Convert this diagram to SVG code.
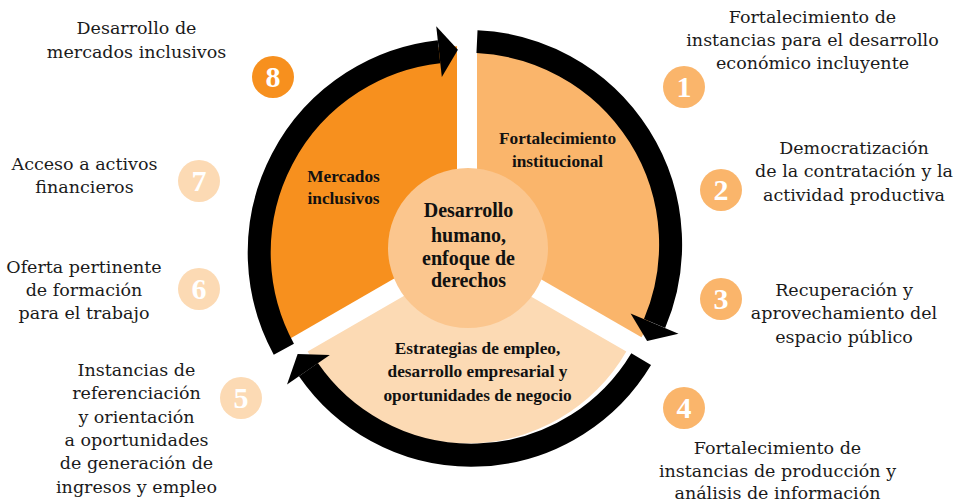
<svg xmlns="http://www.w3.org/2000/svg" width="961" height="503" viewBox="0 0 961 503">
<style>
.lbl{font-family:"DejaVu Serif",serif;font-size:17.5px;fill:#1a1a1a;text-anchor:middle}
.sec{font-family:"Liberation Serif","Times New Roman",serif;font-weight:bold;font-size:17.3px;fill:#111;text-anchor:middle}
.ctr{font-family:"Liberation Serif","Times New Roman",serif;font-weight:bold;font-size:20px;fill:#111;text-anchor:middle}
.num{font-family:"Liberation Serif","Times New Roman",serif;font-weight:bold;font-size:30px;fill:#fff;text-anchor:middle}
.arc{fill:none;stroke:#000;stroke-width:23}
.c1{fill:#F7901E}.c2{fill:#FAB56B}.c3{fill:#FCDAB4}.c4{fill:#FBC68E}
</style>
<rect width="961" height="503" fill="#fff"/>
<g id="sector-mercados">
<path class="c1" d="M457 242.25 L287.26 340.25 A196 196 0 0 1 457 46.25 Z"/>
<text class="sec" x="343.5" y="181.5">Mercados</text>
<text class="sec" x="343.5" y="204">inclusivos</text>
</g>
<g id="sector-fortalecimiento">
<path class="c2" d="M477 242.25 L477 52.25 A190 190 0 0 1 641.5 337.25 Z"/>
<text class="sec" x="557.5" y="144">Fortalecimiento</text>
<text class="sec" x="557.5" y="166.5">institucional</text>
</g>
<g id="sector-estrategias">
<path class="c3" d="M467 259.5 L626.35 351.5 A184 184 0 0 1 307.65 351.5 Z"/>
<text class="sec" x="477.5" y="354">Estrategias de empleo,</text>
<text class="sec" x="477.5" y="377">desarrollo empresarial y</text>
<text class="sec" x="477.5" y="400.5">oportunidades de negocio</text>
</g>
<g id="center">
<circle class="c4" cx="468" cy="248" r="80"/>
<text class="ctr" x="468.5" y="217">Desarrollo</text>
<text class="ctr" x="468.5" y="242">humano,</text>
<text class="ctr" x="468.5" y="265">enfoque de</text>
<text class="ctr" x="468.5" y="287">derechos</text>
</g>
<g id="connectors">
<path class="arc" d="M476.99 41.62 A203 203 0 0 1 654.55 323.53"/>
<polygon points="630.6,313.4 678.5,333.7 647.1,341.0"/>
<path class="arc" d="M641.17 359.07 A198 198 0 0 1 308.43 369.65"/>
<polygon points="329.83,354.89 287.03,384.42 297.64,354.01"/>
<path class="arc" d="M283.85 349.18 A202 202 0 0 1 439.03 51.72"/>
<polygon points="441.83,77.07 436.24,26.37 457.92,49.64"/>
</g>
<g id="item-1">
<circle class="c2" cx="684" cy="87" r="21"/>
<text class="num" x="684" y="97">1</text>
<text class="lbl" x="812.5" y="23">Fortalecimiento de</text>
<text class="lbl" x="812.5" y="46">instancias para el desarrollo</text>
<text class="lbl" x="812.5" y="69">económico incluyente</text>
</g>
<g id="item-2">
<circle class="c2" cx="721" cy="190" r="21"/>
<text class="num" x="721" y="200">2</text>
<text class="lbl" x="854" y="154">Democratización</text>
<text class="lbl" x="854" y="177">de la contratación y la</text>
<text class="lbl" x="854" y="201">actividad productiva</text>
</g>
<g id="item-3">
<circle class="c2" cx="721" cy="299" r="21"/>
<text class="num" x="721" y="309">3</text>
<text class="lbl" x="844" y="296">Recuperación y</text>
<text class="lbl" x="844" y="319">aprovechamiento del</text>
<text class="lbl" x="844" y="343">espacio público</text>
</g>
<g id="item-4">
<circle class="c2" cx="684" cy="408" r="21"/>
<text class="num" x="684" y="418">4</text>
<text class="lbl" x="777.5" y="454">Fortalecimiento de</text>
<text class="lbl" x="777.5" y="476.5">instancias de producción y</text>
<text class="lbl" x="777.5" y="498.5">análisis de información</text>
</g>
<g id="item-5">
<circle class="c3" cx="241" cy="398" r="21"/>
<text class="num" x="241" y="408">5</text>
<text class="lbl" x="136.5" y="376">Instancias de</text>
<text class="lbl" x="136.5" y="399">referenciación</text>
<text class="lbl" x="136.5" y="423">y orientación</text>
<text class="lbl" x="136.5" y="446">a oportunidades</text>
<text class="lbl" x="136.5" y="469">de generación de</text>
<text class="lbl" x="136.5" y="493">ingresos y empleo</text>
</g>
<g id="item-6">
<circle class="c3" cx="199" cy="289" r="21"/>
<text class="num" x="199" y="299">6</text>
<text class="lbl" x="84" y="273">Oferta pertinente</text>
<text class="lbl" x="84" y="296">de formación</text>
<text class="lbl" x="84" y="319">para el trabajo</text>
</g>
<g id="item-7">
<circle class="c3" cx="199" cy="181" r="21"/>
<text class="num" x="199" y="191">7</text>
<text class="lbl" x="84.5" y="170">Acceso a activos</text>
<text class="lbl" x="84.5" y="193">financieros</text>
</g>
<g id="item-8">
<circle class="c1" cx="273" cy="77" r="21"/>
<text class="num" x="273" y="87">8</text>
<text class="lbl" x="136.5" y="34">Desarrollo de</text>
<text class="lbl" x="136.5" y="58">mercados inclusivos</text>
</g>
</svg>
